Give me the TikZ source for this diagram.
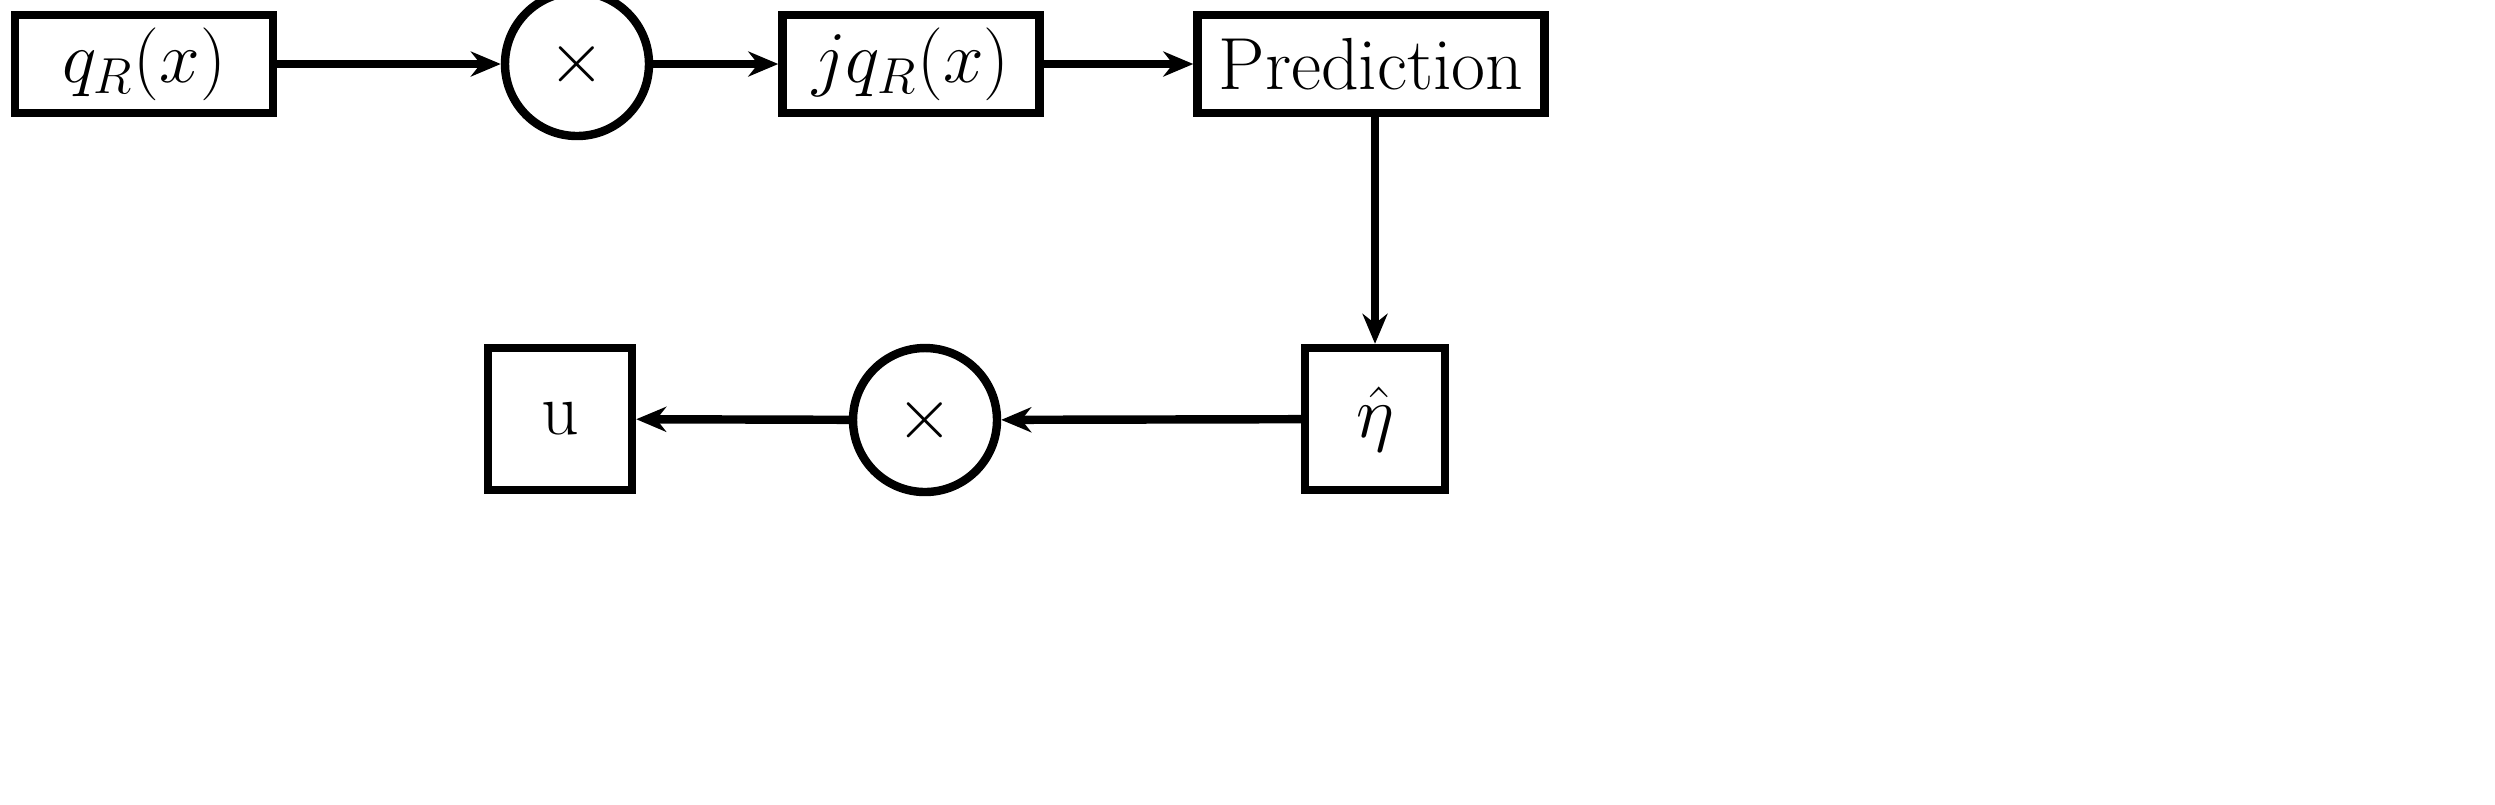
\documentclass[tikz,border=0pt]{standalone}
\usetikzlibrary{arrows.meta}
\begin{document}
\begin{tikzpicture}[x=1cm,y=-1cm,
 every node/.style={line width=2.4pt,draw,inner sep=0pt,font=\fontsize{21}{25}\selectfont},
 box/.style={rectangle},
 circ/.style={circle,minimum size=1.44cm},
 arr/.style={line width=2.4pt,-{Stealth[length=0.3cm,width=0.25cm]}}]
\path[use as bounding box] (0,0) rectangle (24.95,8.04);
\node[box,minimum width=2.58cm,minimum height=0.98cm] (q) at (1.44,0.64) {$q_R(x)$};
\node[circ] (m1) at (5.77,0.64) {$\times$};
\node[box,minimum width=2.57cm,minimum height=0.98cm] (jq) at (9.11,0.64) {$jq_R(x)$};
\node[box,minimum width=3.47cm,minimum height=0.98cm] (p) at (13.71,0.64) {Prediction};
\node[box,minimum width=1.4cm,minimum height=1.42cm] (e) at (13.75,4.19) {$\hat\eta$};
\node[circ] (m2) at (9.25,4.20) {$\times$};
\node[box,minimum width=1.44cm,minimum height=1.42cm] (u) at (5.60,4.19) {u};
\draw[arr] (q) -- (m1);
\draw[arr] (m1) -- (jq);
\draw[arr] (jq) -- (p);
\draw[arr] (p.south -| e.north) -- (e.north);
\draw[arr] (e) -- (m2);
\draw[arr] (m2) -- (u);
\end{tikzpicture}
\end{document}
